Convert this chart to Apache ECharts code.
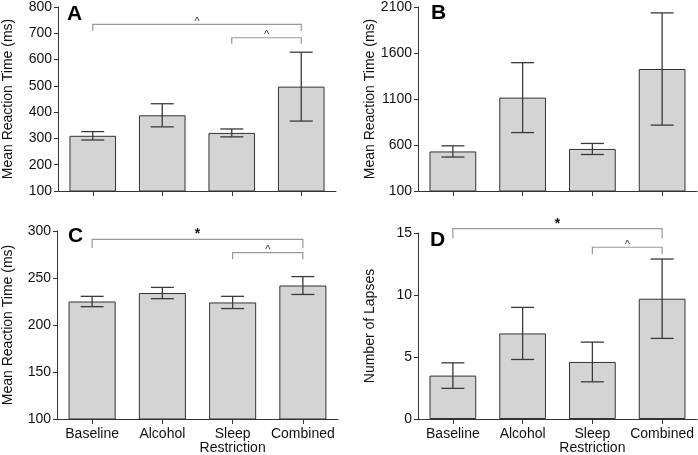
<!DOCTYPE html>
<html>
<head>
<meta charset="utf-8">
<script src="https://cdn.jsdelivr.net/npm/echarts@6/dist/echarts.min.js"></script>
<style>
  html, body { margin: 0; padding: 0; background: #fff; }
  #chart { width: 698px; height: 455px; }
</style>
</head>
<body>
<div id="chart"></div>
<script>
// categories
const conditions = ['Baseline', 'Alcohol', 'Sleep\nRestriction', 'Combined']

// A: mean reaction time (ms)
const rtA = [310, 388, 321, 497]
const errA = [16, 44, 15, 131]
// B: mean reaction time (ms)
const rtB = [530, 1115, 557, 1426]
const errB = [61, 380, 60, 610]
// C: mean reaction time (ms)
const rtC = [225, 234, 224, 242]
const errC = [5.5, 6, 6.5, 9.5]
// D: number of lapses
const lapsesD = [3.5, 6.9, 4.6, 9.7]
const errD = [1.03, 2.1, 1.6, 3.2]

// significance brackets: [from, to, top, leg, mark]
const bracketsA = [[0, 3, 734, 709, '^'], [2, 3, 683, 660, '^']]
const bracketsC = [[0, 3, 291, 282, '*'], [2, 3, 277, 270, '^']]
const bracketsD = [[0, 3, 15.35, 14.55, '*'], [2, 3, 13.85, 13.28, '^']]

const font = 'Arial, "Liberation Sans", sans-serif'
const axisColor = '#333'

const charts = echarts.init(document.getElementById('chart'))

function grid(left, top, width, height) {
  return { left: left, top: top, width: width, height: height }
}

function xAxis(idx, showLabel) {
  return {
    type: 'category',
    gridIndex: idx,
    data: conditions,
    axisLine: { lineStyle: { color: axisColor, width: 1 } },
    axisTick: { show: true, alignWithLabel: true, length: 5, lineStyle: { color: axisColor } },
    axisLabel: {
      show: showLabel,
      color: '#111',
      fontSize: 14,
      fontFamily: font,
      margin: 8,
      lineHeight: 14,
      interval: 0
    }
  }
}

function yAxis(idx, min, max, interval, name, gap) {
  return {
    type: 'value',
    gridIndex: idx,
    min: min,
    max: max,
    interval: interval,
    name: name,
    nameLocation: 'middle',
    nameGap: gap,
    nameTextStyle: { color: '#111', fontSize: 14, fontFamily: font },
    axisLine: { show: true, lineStyle: { color: axisColor, width: 1 } },
    axisTick: { show: true, length: 4, lineStyle: { color: axisColor } },
    axisLabel: {
      color: '#111',
      fontSize: 14,
      fontFamily: font,
      margin: 6,
      formatter: (v) => String(v)
    },
    splitLine: { show: false }
  }
}

function barSeries(idx, values) {
  return {
    type: 'bar',
    xAxisIndex: idx,
    yAxisIndex: idx,
    data: values,
    barWidth: '67%',
    itemStyle: { color: '#d4d4d4', borderColor: '#333', borderWidth: 1 },
    silent: true
  }
}

function errorSeries(idx, values, errs) {
  return {
    type: 'custom',
    xAxisIndex: idx,
    yAxisIndex: idx,
    data: values.map((v, i) => [i, v - errs[i], v + errs[i]]),
    encode: { x: 0, y: [1, 2] },
    silent: true,
    z: 5,
    renderItem(params, api) {
      const lo = api.coord([api.value(0), api.value(1)])
      const hi = api.coord([api.value(0), api.value(2)])
      const hw = 11.5
      const style = { stroke: '#3a3a3a', lineWidth: 1.3 }
      return {
        type: 'group',
        children: [
          { type: 'line', shape: { x1: lo[0], y1: lo[1], x2: hi[0], y2: hi[1] }, style: style },
          { type: 'line', shape: { x1: hi[0] - hw, y1: hi[1], x2: hi[0] + hw, y2: hi[1] }, style: style },
          { type: 'line', shape: { x1: lo[0] - hw, y1: lo[1], x2: lo[0] + hw, y2: lo[1] }, style: style }
        ]
      }
    }
  }
}

function bracketSeries(idx, brackets) {
  return {
    type: 'custom',
    xAxisIndex: idx,
    yAxisIndex: idx,
    data: brackets,
    silent: true,
    clip: false,
    z: 6,
    renderItem(params, api) {
      const b = brackets[params.dataIndex]
      const a1 = api.coord([b[0], b[3]])
      const a2 = api.coord([b[0], b[2]])
      const b2 = api.coord([b[1], b[2]])
      const b1 = api.coord([b[1], b[3]])
      const star = b[4] === '*'
      return {
        type: 'group',
        children: [
          {
            type: 'polyline',
            shape: { points: [a1, a2, b2, b1] },
            style: { stroke: '#999', lineWidth: 1.2, fill: null }
          },
          {
            type: 'text',
            x: (a2[0] + b2[0]) / 2,
            y: a2[1] - (star ? 12 : 8),
            style: {
              text: b[4],
              fill: star ? '#111' : '#333',
              font: (star ? 'bold 14px ' : '11px ') + font,
              align: 'center',
              verticalAlign: 'top'
            }
          }
        ]
      }
    }
  }
}

charts.setOption({
  animation: false,
  grid: [
    grid(58, 5, 278, 186),
    grid(418, 5, 279, 186),
    grid(57, 231, 281, 188),
    grid(418, 233, 279, 186)
  ],
  xAxis: [xAxis(0, false), xAxis(1, false), xAxis(2, true), xAxis(3, true)],
  yAxis: [
    yAxis(0, 100, 800, 100, 'Mean Reaction Time (ms)', 43),
    yAxis(1, 100, 2100, 500, 'Mean Reaction Time (ms)', 41),
    yAxis(2, 100, 300, 50, 'Mean Reaction Time (ms)', 42),
    yAxis(3, 0, 15, 5, 'Number of Lapses', 41)
  ],
  graphic: [
    { type: 'text', left: 67, top: 4, style: { text: 'A', font: 'bold 21px ' + font, fill: '#000' } },
    { type: 'text', left: 431, top: 3, style: { text: 'B', font: 'bold 21px ' + font, fill: '#000' } },
    { type: 'text', left: 68, top: 226, style: { text: 'C', font: 'bold 21px ' + font, fill: '#000' } },
    { type: 'text', left: 430, top: 230, style: { text: 'D', font: 'bold 21px ' + font, fill: '#000' } }
  ],
  series: [
    barSeries(0, rtA), errorSeries(0, rtA, errA), bracketSeries(0, bracketsA),
    barSeries(1, rtB), errorSeries(1, rtB, errB),
    barSeries(2, rtC), errorSeries(2, rtC, errC), bracketSeries(2, bracketsC),
    barSeries(3, lapsesD), errorSeries(3, lapsesD, errD), bracketSeries(3, bracketsD)
  ]
})
</script>
</body>
</html>
